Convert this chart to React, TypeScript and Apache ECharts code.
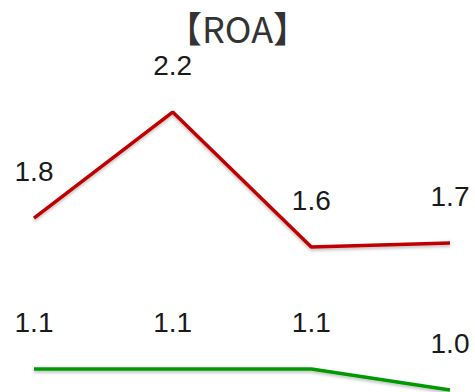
import React, { useEffect, useRef } from "react";
import * as echarts from "echarts";

const categories = ["1", "2", "3", "4"];
const redValues = [1.766, 2.227, 1.64, 1.658];
const greenValues = [1.11, 1.11, 1.11, 1.019];
const titleText = "【ROA】";

export default function App() {
  const ref = useRef<HTMLDivElement>(null);
  useEffect(() => {
    document.body.style.margin = "0";
    if (!ref.current) return;
    const chart = echarts.init(ref.current, undefined, { renderer: "svg" });
    const label = {
      show: true,
      position: "top" as const,
      distance: 32,
      fontSize: 28,
      fontFamily: "Liberation Sans",
      color: "#1a1a1a",
      formatter: (p: any) => Number(p.value).toFixed(1),
    };
    const mk = (data: number[], color: string) => ({
      type: "line",
      data,
      symbol: "circle",
      symbolSize: 1,
      showSymbol: true,
      clip: false,
      lineStyle: {
        color,
        width: 3.5,
        shadowColor: "rgba(0,0,0,0.25)",
        shadowBlur: 3,
        shadowOffsetY: 2,
      },
      itemStyle: { color: "rgba(0,0,0,0)" },
      label,
    });
    chart.setOption({
      animation: false,
      title: {
        text: titleText,
        left: "center",
        top: 4,
        textStyle: {
          fontSize: 36,
          fontWeight: "normal",
          color: "#333333",
          fontFamily: "Noto Sans CJK SC",
        },
      },
      grid: { left: 34, right: 25, top: 73.4, bottom: 0, containLabel: false },
      xAxis: {
        type: "category",
        data: categories,
        boundaryGap: false,
        show: false,
      },
      yAxis: { type: "value", min: 1.01, max: 2.395, show: false },
      series: [mk(redValues, "#C00000"), mk(greenValues, "#009A00")],
    });
    return () => chart.dispose();
  }, []);
  return <div ref={ref} style={{ width: 475, height: 392 }} />;
}
